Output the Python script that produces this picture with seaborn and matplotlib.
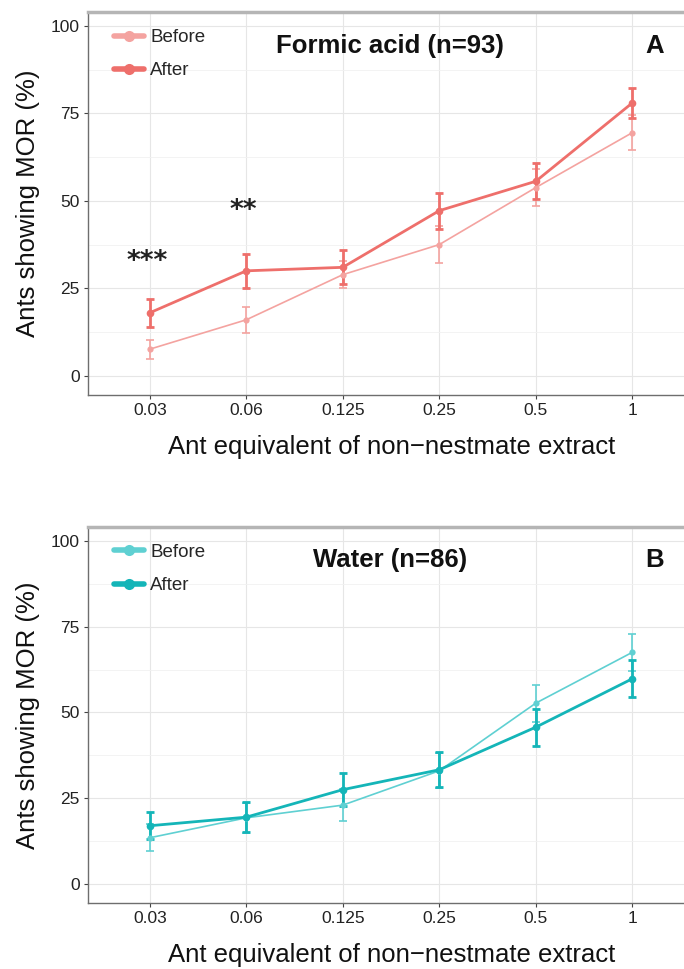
import numpy as np
import pandas as pd
import matplotlib
matplotlib.use("Agg")
import matplotlib.pyplot as plt
import seaborn as sns

doses = ["0.03", "0.06", "0.125", "0.25", "0.5", "1"]
groups = ["Before", "After"]

fa_before = [7.6, 16.0, 28.9, 37.5, 53.8, 69.5]
fa_before_err = [2.7, 3.8, 3.8, 5.2, 5.2, 5.0]
fa_after = [18.0, 30.0, 31.0, 47.2, 55.6, 78.0]
fa_after_err = [4.0, 4.8, 4.9, 5.1, 5.2, 4.3]

wa_before = [13.5, 19.3, 23.0, 33.0, 52.7, 67.5]
wa_before_err = [4.0, 4.3, 4.6, 5.1, 5.4, 5.3]
wa_after = [17.0, 19.5, 27.5, 33.3, 45.7, 59.8]
wa_after_err = [4.0, 4.3, 4.8, 5.1, 5.4, 5.4]

fa_stars = ["***", "**"]
fa_star_y = [32.5, 47.0]

panels = [
    dict(title="Formic acid (n=93)", tag="A", before=fa_before, before_err=fa_before_err,
         after=fa_after, after_err=fa_after_err,
         c_before="#F4A3A0", c_after="#EE6F6B", stars=fa_stars, star_y=fa_star_y),
    dict(title="Water (n=86)", tag="B", before=wa_before, before_err=wa_before_err,
         after=wa_after, after_err=wa_after_err,
         c_before="#5FD0D2", c_after="#14B5B8", stars=[], star_y=[]),
]

sns.set_theme(style="white")
plt.rcParams["font.family"] = ["Liberation Sans", "DejaVu Sans"]

fig = plt.figure(figsize=(6.84, 9.69), dpi=100)
axes_rects = [
    [88 / 684, 1 - 395 / 969, 607 / 684, 383 / 969],
    [88 / 684, 1 - 903 / 969, 607 / 684, 376 / 969],
]

for rect, p in zip(axes_rects, panels):
    ax = fig.add_axes(rect)
    xs = np.arange(len(doses))
    df = pd.DataFrame({
        "x": np.concatenate([xs, xs]),
        "y": np.array(p["before"] + p["after"]),
        "err": np.array(p["before_err"] + p["after_err"]),
        "group": [groups[0]] * len(doses) + [groups[1]] * len(doses),
    })
    styles = {
        "Before": dict(color=p["c_before"], lw=1.2, ms=4.5),
        "After": dict(color=p["c_after"], lw=2.0, ms=5.5),
    }
    for g in groups:
        sub = df[df["group"] == g]
        st = styles[g]
        ax.errorbar(sub["x"], sub["y"], yerr=sub["err"], fmt="none",
                    ecolor=st["color"], elinewidth=st["lw"], capsize=3.2,
                    capthick=st["lw"], zorder=3)
        sns.lineplot(data=sub, x="x", y="y", ax=ax, color=st["color"],
                     lw=st["lw"], marker="o", markersize=st["ms"],
                     markeredgewidth=0, label=g, zorder=4)

    ax.set_xlim(-0.64, 5.65)
    ax.set_ylim(-5.5, 104)
    ax.set_xticks(xs)
    ax.set_xticklabels(doses)
    ax.set_yticks([0, 25, 50, 75, 100])
    ax.set_yticks([12.5, 37.5, 62.5, 87.5], minor=True)
    ax.grid(True, which="major", color="#E6E6E6", lw=0.8)
    ax.grid(True, which="minor", axis="y", color="#F1F1F1", lw=0.6)
    ax.set_axisbelow(True)
    for s in ax.spines.values():
        s.set_color("#6E6E6E")
        s.set_linewidth(1.0)
    ax.spines["top"].set_color("#B5B5B5")
    ax.spines["top"].set_linewidth(2.5)
    ax.tick_params(axis="both", which="major", length=3, width=0.8,
                   color="#444444", labelsize=12.5, labelcolor="#222222", pad=3,
                   left=True, bottom=True)
    ax.tick_params(axis="both", which="minor", length=0)
    ax.set_xlabel("Ant equivalent of non\u2212nestmate extract", fontsize=18.5,
                  color="#111111", labelpad=12)
    ax.set_ylabel("Ants showing MOR (%)", fontsize=18.5, color="#111111", labelpad=8)

    ax.text(0.4975, 0.912, p["title"], transform=ax.transAxes, ha="center",
            va="center", fontsize=18.5, fontweight="bold", color="#111111")
    ax.text(0.934, 0.912, p["tag"], transform=ax.transAxes, ha="center",
            va="center", fontsize=18.5, fontweight="bold", color="#111111")
    for i, (s, yv) in enumerate(zip(p["stars"], p["star_y"])):
        ax.text(xs[i] - 0.03, yv, s, ha="center", va="center", fontsize=19,
                family="DejaVu Sans", fontweight="bold", color="#222222")

    leg = ax.legend(loc="upper left", bbox_to_anchor=(0.03, 0.975), frameon=False,
                    fontsize=13.5, labelspacing=0.85, handlelength=1.6,
                    handletextpad=0.35, borderaxespad=0)
    for h in leg.get_lines():
        h.set_linewidth(4)
        h.set_markersize(8)

fig.savefig("out.png", dpi=100)
